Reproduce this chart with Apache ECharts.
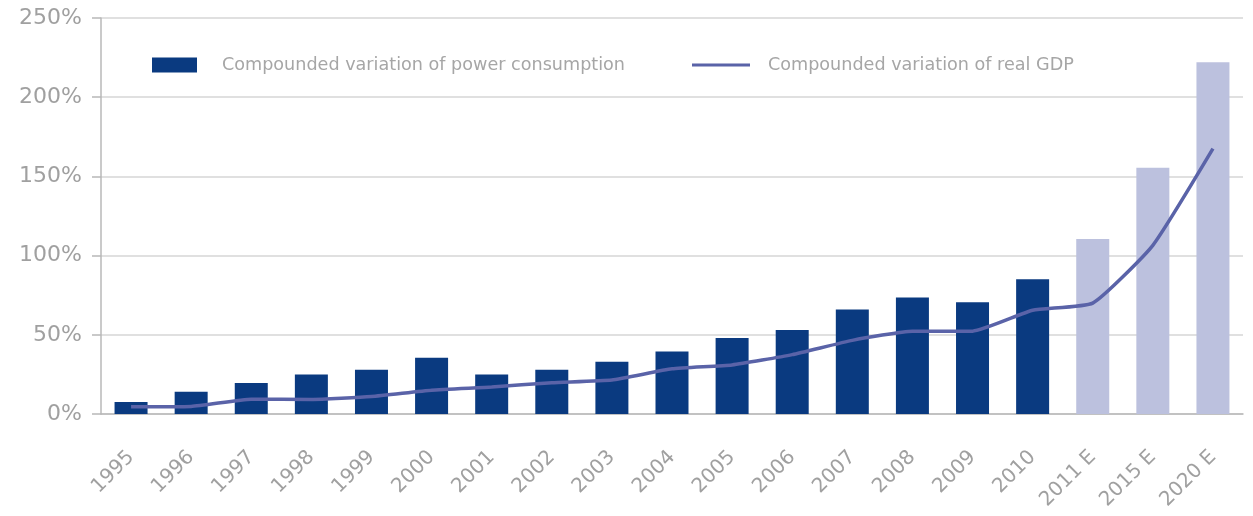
<!DOCTYPE html>
<html>
<head>
<meta charset="utf-8">
<script src="https://cdn.jsdelivr.net/npm/echarts@6/dist/echarts.min.js"></script>
<style>
html,body{margin:0;padding:0;background:#fff;}
#c{width:1253px;height:516px;}
</style>
</head>
<body>
<div id="c"></div>
<script>
const categories = ['1995','1996','1997','1998','1999','2000','2001','2002','2003','2004','2005','2006','2007','2008','2009','2010','2011 E','2015 E','2020 E'];
const powerConsumption = [7.5,14,19.5,25,28,35.5,25,28,33,39.5,48,53,66,73.5,70.5,85,110.5,155.5,222];
const realGDP = [4.6,4.8,9.3,9.2,11,15,17,19.8,21.5,28.5,31,37.5,46.5,52.3,52.3,65.5,70,106.5,167.5];
const yTicks = {min:0, max:250, interval:50};
const names = ['Compounded variation of power consumption','Compounded variation of real GDP'];

const DARK = '#0a3a80', LIGHT = '#bcc1de', LINE = '#5a63a8';
const barData = powerConsumption.map((v,i)=>({value:v,itemStyle:{color: categories[i].endsWith('E') ? LIGHT : DARK}}));
const font = '"DejaVu Sans", "Liberation Sans", Arial, sans-serif';
const chart = echarts.init(document.getElementById('c'));
chart.setOption({
  animation:false,
  textStyle:{fontFamily:font},
  grid:{left:101,right:10,top:18,bottom:102,containLabel:false},
  legend:[
    {left:152,top:56,itemWidth:45,itemHeight:15,data:[{name:names[0],icon:'rect'}],
     textStyle:{color:'#a6a6a6',fontSize:17.6,fontFamily:font,padding:[0,0,0,20]},padding:0},
    {left:692,top:56,itemWidth:58,itemHeight:3,data:[{name:names[1],icon:'rect',itemStyle:{color:LINE}}],
     textStyle:{color:'#a6a6a6',fontSize:17.6,fontFamily:font,padding:[0,0,0,13]},padding:0}
  ],
  xAxis:{type:'category',data:categories,
    axisLine:{lineStyle:{color:'#b8b8b8',width:1.5}},
    axisTick:{length:9,lineStyle:{color:'#b8b8b8',width:1.5}},
    axisLabel:{rotate:45,color:'#a0a0a0',fontSize:20,margin:40,padding:[26,0,0,0],fontFamily:font}},
  yAxis:{type:'value',min:yTicks.min,max:yTicks.max,interval:yTicks.interval,
    axisLine:{show:true,lineStyle:{color:'#b8b8b8',width:1.5}},
    axisTick:{show:true,length:9,lineStyle:{color:'#b8b8b8',width:1.5}},
    splitLine:{lineStyle:{color:'#d6d6d6',width:1.5}},
    axisLabel:{formatter:'{value}%',color:'#a0a0a0',fontSize:22,margin:19,fontFamily:font}},
  series:[
    {name:names[0],type:'bar',data:barData,barWidth:33,itemStyle:{color:DARK}},
    {name:names[1],type:'line',data:realGDP,symbol:'none',smooth:0.15,lineStyle:{color:LINE,width:3.5},itemStyle:{color:LINE},z:5}
  ]
});
</script>
</body>
</html>
